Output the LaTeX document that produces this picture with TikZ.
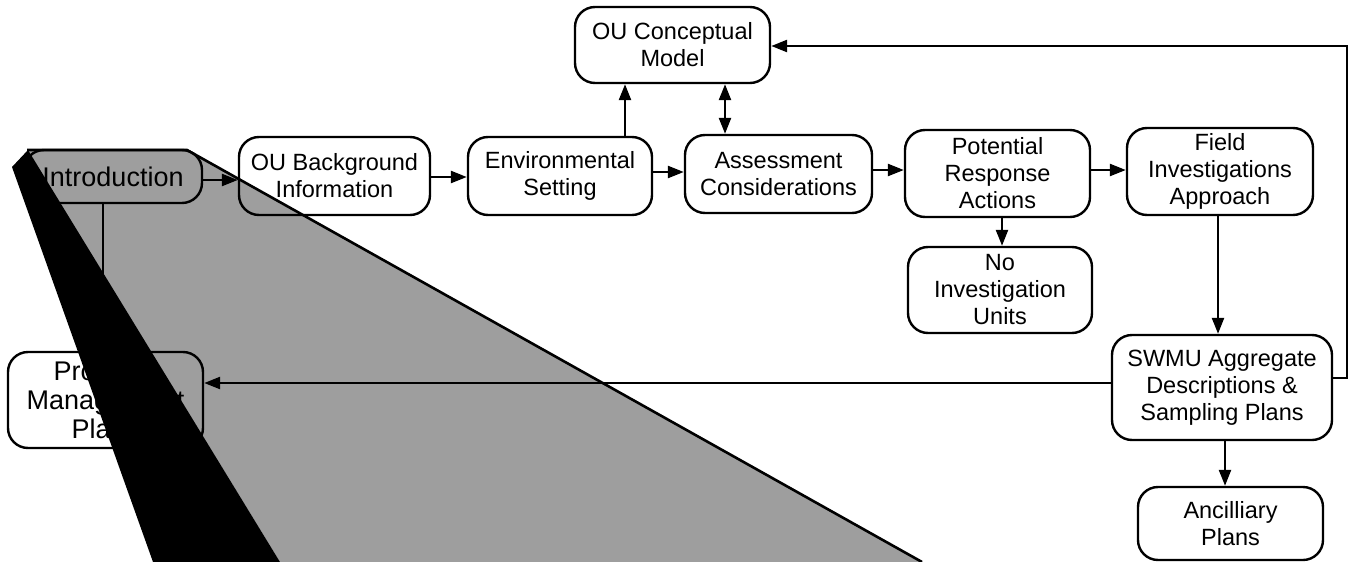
\documentclass[tikz,border=0pt]{standalone}
\usepackage{fontspec}
\setmainfont{Liberation Sans}
\usetikzlibrary{arrows.meta,calc}
\tikzset{
  box/.style={draw, line width=2.4pt, rounded corners=20pt, align=center, inner sep=0pt,
    font=\fontsize{23.5}{27}\selectfont},
  bigtext/.style={font=\fontsize{27}{29}\selectfont},
  arr/.style={line width=2.4pt, -{Triangle[length=16pt,width=12pt]}},
  darr/.style={line width=2.4pt, {Triangle[length=16pt,width=12pt]}-{Triangle[length=16pt,width=12pt]}},
  ln/.style={line width=2.4pt},
  shade/.style={fill=black!38},
  beam/.style={fill=black},
}
\begin{document}
\begin{tikzpicture}[x=1pt,y=-1pt]
\useasboundingbox (0,0) rectangle (1357,562);
% grey beam
\fill[shade] (27,150) -- (187,150) -- (922,562) -- (280,562) -- cycle;
\draw[line width=2.6pt] (27,150) -- (187,150) -- (922,562);
% nodes
\node[box, minimum width=195pt, minimum height=76pt] (concept) at (672.5,45) {OU Conceptual\\Model};
\node[box, bigtext, minimum width=178pt, minimum height=53pt] (intro) at (113,176.5) {Introduction};
\node[box, minimum width=191pt, minimum height=78pt] (bg) at (334.5,176) {OU Background\\Information};
\node[box, minimum width=184pt, minimum height=78pt] (env) at (560,176) {Environmental\\Setting};
\node[box, minimum width=187pt, minimum height=78pt] (assess) at (778.5,174) {Assessment\\Considerations};
\node[box, minimum width=185pt, minimum height=87pt] (pot) at (997.5,173.5) {Potential\\Response\\Actions};
\node[box, minimum width=186pt, minimum height=87pt] (field) at (1220,171.5) {Field\\Investigations\\Approach};
\node[box, minimum width=184pt, minimum height=86pt] (noinv) at (1000,290) {No\\Investigation\\Units};
\node[box, minimum width=220pt, minimum height=105pt] (swmu) at (1222,387.5) {SWMU Aggregate\\Descriptions \&\\Sampling Plans};
\node[box, minimum width=185pt, minimum height=73pt] (ancil) at (1230.5,523.5) {Ancilliary\\Plans};
\node[box, bigtext, minimum width=195pt, minimum height=96pt] (pm) at (105.5,400) {Program\\Management\\Plans};
% connectors
\draw[arr] (intro.east |- 0,180) -- (bg.west |- 0,180);
\draw[arr] (bg.east |- 0,177) -- (env.west |- 0,177);
\draw[arr] (env.east |- 0,172) -- (assess.west |- 0,172);
\draw[arr] (env.north -| 625,0) -- (concept.south -| 625,0);
\draw[darr] (assess.north -| 725,0) -- (concept.south -| 725,0);
\draw[arr] (assess.east |- 0,170) -- (pot.west |- 0,170);
\draw[arr] (pot.east |- 0,170) -- (field.west |- 0,170);
\draw[arr] (pot.south -| 1002,0) -- (noinv.north -| 1002,0);
\draw[arr] (field.south -| 1218,0) -- (swmu.north -| 1218,0);
\draw[arr] (swmu.south -| 1225,0) -- (ancil.north -| 1225,0);
\coordinate (fbA) at (1347,378);
\coordinate (fbB) at (1347,46);
\draw[arr] (swmu.east |- fbA) -- (fbA) -- (fbB) -- (concept.east |- fbB);
\draw[arr] (swmu.west |- 0,383) -- (pm.east |- 0,383);
\draw[ln] (intro.south -| 103,0) -- (pm.north -| 103,0);
% black beam edge
\fill[beam] (12,167) -- (28,150) -- (280,562) -- (153,562) -- cycle;
\end{tikzpicture}
\end{document}
